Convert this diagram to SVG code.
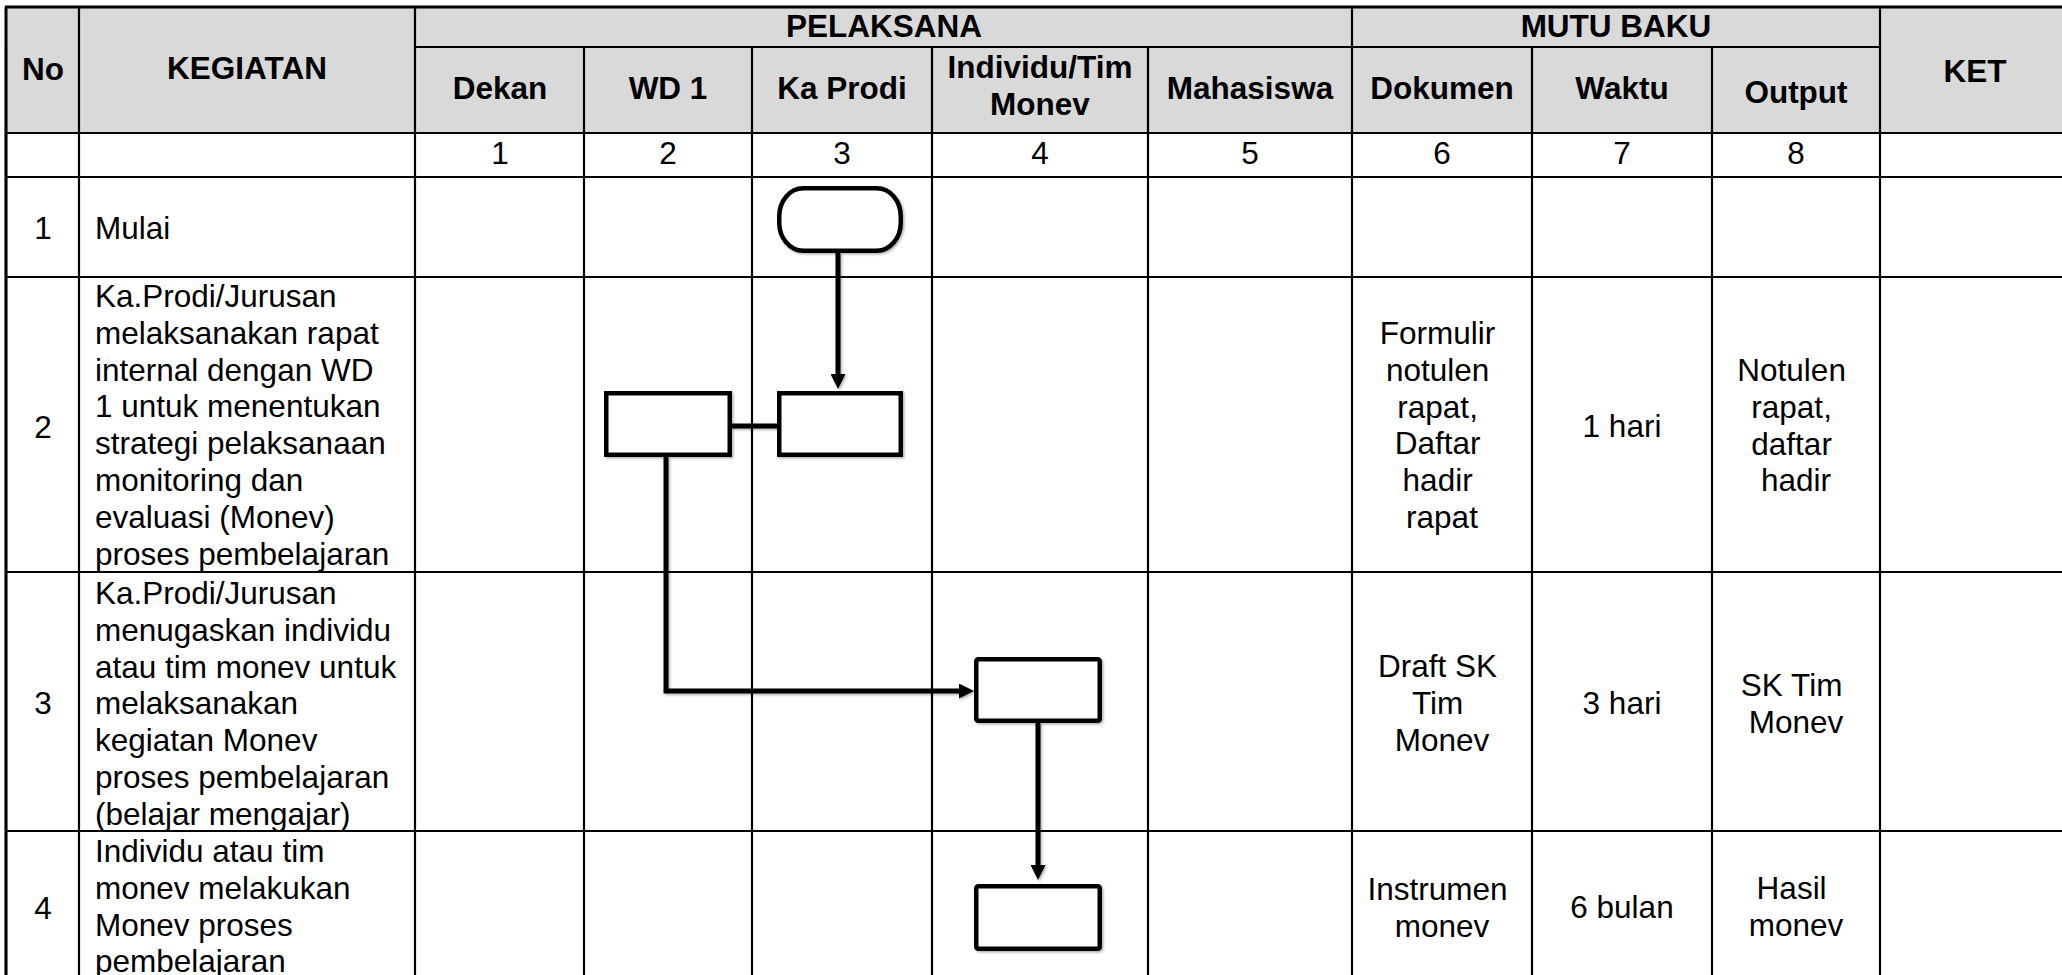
<svg xmlns="http://www.w3.org/2000/svg" width="2062" height="975" viewBox="0 0 2062 975">
<defs>
<style>
.grid{stroke:#000;stroke-width:2.2;fill:none}
.border{stroke:#000;stroke-width:3;fill:none}
.hdr{font-family:"Liberation Sans",Arial,sans-serif;font-weight:bold;font-size:31.5px;fill:#000}
.txt{font-family:"Liberation Sans",Arial,sans-serif;font-size:31.5px;fill:#000}
.c{text-anchor:middle}
.shape{fill:#fff;stroke:#000;stroke-width:4.5}
.conn{fill:none;stroke:#000;stroke-width:5}
</style>
<marker id="arrow" viewBox="0 0 15 15" markerWidth="15" markerHeight="15" refX="3" refY="7.5" orient="auto" markerUnits="userSpaceOnUse">
<path d="M0,0 L15,7.5 L0,15 z" fill="#000"/>
</marker>
<filter id="sh" x="-10%" y="-10%" width="130%" height="130%">
<feDropShadow dx="1.5" dy="1.5" stdDeviation="1.2" flood-color="#000" flood-opacity="0.3"/>
</filter>
</defs>
<rect width="2062" height="975" fill="#fff"/>
<g id="table">
<rect x="6" y="7" width="2070" height="126" fill="#d9d9d9"/>
<g class="grid">
<line x1="6" y1="47" x2="6" y2="990"/>
<line x1="79" y1="7" x2="79" y2="990"/>
<line x1="415" y1="7" x2="415" y2="990"/>
<line x1="584" y1="47" x2="584" y2="990"/>
<line x1="752" y1="47" x2="752" y2="990"/>
<line x1="932" y1="47" x2="932" y2="990"/>
<line x1="1148" y1="47" x2="1148" y2="990"/>
<line x1="1352" y1="7" x2="1352" y2="990"/>
<line x1="1532" y1="47" x2="1532" y2="990"/>
<line x1="1712" y1="47" x2="1712" y2="990"/>
<line x1="1880" y1="7" x2="1880" y2="990"/>
<line x1="415" y1="47" x2="1880" y2="47"/>
<line x1="6" y1="133" x2="2070" y2="133"/>
<line x1="6" y1="177" x2="2070" y2="177"/>
<line x1="6" y1="277" x2="2070" y2="277"/>
<line x1="6" y1="572" x2="2070" y2="572"/>
<line x1="6" y1="831" x2="2070" y2="831"/>
</g>
<g class="border">
<line x1="5" y1="7" x2="2070" y2="7"/>
<line x1="6" y1="7" x2="6" y2="990"/>
</g>
<g class="hdr c">
<text x="43" y="80">No</text>
<text x="247" y="79">KEGIATAN</text>
<text x="884" y="37">PELAKSANA</text>
<text x="1616" y="37">MUTU BAKU</text>
<text x="1975" y="82">KET</text>
<text x="500" y="99">Dekan</text>
<text x="668" y="99">WD 1</text>
<text x="842" y="99">Ka Prodi</text>
<text x="1040" y="78">Individu/Tim</text>
<text x="1040" y="115">Monev</text>
<text x="1250" y="99">Mahasiswa</text>
<text x="1442" y="99">Dokumen</text>
<text x="1622" y="99">Waktu</text>
<text x="1796" y="103">Output</text>
</g>
<g class="txt c">
<text x="500" y="164">1</text>
<text x="668" y="164">2</text>
<text x="842" y="164">3</text>
<text x="1040" y="164">4</text>
<text x="1250" y="164">5</text>
<text x="1442" y="164">6</text>
<text x="1622" y="164">7</text>
<text x="1796" y="164">8</text>
<text x="43" y="239">1</text>
<text x="43" y="438">2</text>
<text x="43" y="714">3</text>
<text x="43" y="919">4</text>
</g>
<g class="txt">
<text x="95" y="239">Mulai</text>
<text x="95" y="307">
<tspan x="95" y="307">Ka.Prodi/Jurusan</tspan>
<tspan x="95" y="343.8">melaksanakan rapat</tspan>
<tspan x="95" y="380.6">internal dengan WD</tspan>
<tspan x="95" y="417.4">1 untuk menentukan</tspan>
<tspan x="95" y="454.2">strategi pelaksanaan</tspan>
<tspan x="95" y="491">monitoring dan</tspan>
<tspan x="95" y="527.8">evaluasi (Monev)</tspan>
<tspan x="95" y="564.6">proses pembelajaran</tspan>
</text>
<text x="95" y="604">
<tspan x="95" y="604">Ka.Prodi/Jurusan</tspan>
<tspan x="95" y="640.8">menugaskan individu</tspan>
<tspan x="95" y="677.6">atau tim monev untuk</tspan>
<tspan x="95" y="714.4">melaksanakan</tspan>
<tspan x="95" y="751.2">kegiatan Monev</tspan>
<tspan x="95" y="788">proses pembelajaran</tspan>
<tspan x="95" y="824.8">(belajar mengajar)</tspan>
</text>
<text x="95" y="862">
<tspan x="95" y="862">Individu atau tim</tspan>
<tspan x="95" y="898.8">monev melakukan</tspan>
<tspan x="95" y="935.6">Monev proses</tspan>
<tspan x="95" y="972.4">pembelajaran</tspan>
</text>
</g>
<g class="txt c">
<text x="1442" y="344">
<tspan x="1442" y="344">Formulir</tspan>
<tspan x="1442" y="380.8">notulen</tspan>
<tspan x="1442" y="417.6">rapat,</tspan>
<tspan x="1442" y="454.4">Daftar</tspan>
<tspan x="1442" y="491.2">hadir</tspan>
<tspan x="1442" y="528">rapat</tspan>
</text>
<text x="1622" y="437">1 hari</text>
<text x="1796" y="381">
<tspan x="1796" y="381">Notulen</tspan>
<tspan x="1796" y="417.8">rapat,</tspan>
<tspan x="1796" y="454.6">daftar</tspan>
<tspan x="1796" y="491.4">hadir</tspan>
</text>
<text x="1442" y="677">
<tspan x="1442" y="677">Draft SK</tspan>
<tspan x="1442" y="713.8">Tim</tspan>
<tspan x="1442" y="750.6">Monev</tspan>
</text>
<text x="1622" y="714">3 hari</text>
<text x="1796" y="696">
<tspan x="1796" y="696">SK Tim</tspan>
<tspan x="1796" y="732.8">Monev</tspan>
</text>
<text x="1442" y="900">
<tspan x="1442" y="900">Instrumen</tspan>
<tspan x="1442" y="936.8">monev</tspan>
</text>
<text x="1622" y="918">6 bulan</text>
<text x="1796" y="899">
<tspan x="1796" y="899">Hasil</tspan>
<tspan x="1796" y="935.8">monev</tspan>
</text>
</g>
</g>
<g id="connectors" filter="url(#sh)">
<line class="conn" x1="838" y1="253" x2="838" y2="377" marker-end="url(#arrow)"/>
<line class="conn" x1="731" y1="426" x2="778" y2="426"/>
<path class="conn" d="M666,457 V691 H962" marker-end="url(#arrow)"/>
<line class="conn" x1="1038" y1="723" x2="1038" y2="868" marker-end="url(#arrow)"/>
</g>
<g id="node-start" filter="url(#sh)">
<rect class="shape" x="779.25" y="188.25" width="121.5" height="62.5" rx="24" ry="28"/>
</g>
<g id="node-wd1-rapat" filter="url(#sh)">
<rect class="shape" x="606.25" y="393.25" width="123.5" height="61.5"/>
</g>
<g id="node-kaprodi-rapat" filter="url(#sh)">
<rect class="shape" x="779.25" y="393.25" width="121.5" height="61.5"/>
</g>
<g id="node-tugas-monev" filter="url(#sh)">
<rect class="shape" x="976.25" y="659.25" width="123.5" height="61.5" rx="2"/>
</g>
<g id="node-lakukan-monev" filter="url(#sh)">
<rect class="shape" x="976.25" y="886.25" width="123.5" height="62.5" rx="2"/>
</g>
</svg>
